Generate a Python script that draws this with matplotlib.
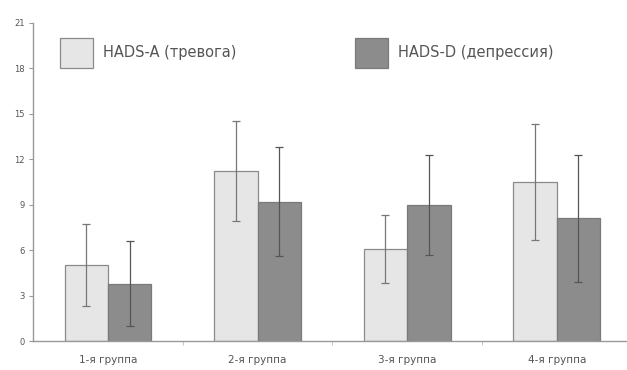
import matplotlib
matplotlib.use("Agg")
import matplotlib.pyplot as plt
from matplotlib.patches import Rectangle
import numpy as np

categories = ["1-я группа", "2-я группа", "3-я группа", "4-я группа"]
series_names = ["HADS-A (тревога)", "HADS-D (депрессия)"]
anx_mean = [5.0, 11.2, 6.1, 10.5]
anx_sd = [2.7, 3.3, 2.25, 3.8]
dep_mean = [3.8, 9.2, 9.0, 8.1]
dep_sd = [2.8, 3.6, 3.3, 4.2]
yticks = [0, 3, 6, 9, 12, 15, 18, 21]

W, H = 627, 370
fig = plt.figure(figsize=(W / 100, H / 100), dpi=100)
ax = fig.add_axes([0.053, 0.078, 0.947, 0.86])

x = np.arange(len(categories))
w = 0.29
light = "#e6e6e6"
dark = "#8c8c8c"
ecol = "#777777"
ax.bar(x - w/2, anx_mean, w, color=light, edgecolor="#8a8a8a", linewidth=0.9,
       yerr=anx_sd, error_kw=dict(ecolor=ecol, elinewidth=0.9, capsize=3, capthick=0.9), zorder=2)
ax.bar(x + w/2, dep_mean, w, color=dark, edgecolor="#7a7a7a", linewidth=0.9,
       yerr=dep_sd, error_kw=dict(ecolor="#555555", elinewidth=0.9, capsize=3, capthick=0.9), zorder=2)

ax.set_xlim(-0.5, 3.47)
ax.set_ylim(0, 21)
ax.set_yticks(yticks)
ax.set_yticklabels([str(t) for t in yticks], fontsize=6, color="#555555")
ax.set_xticks(x)
ax.set_xticklabels(categories, fontsize=7.5, color="#555555")
ax.tick_params(axis='x', length=0, pad=10)
ax.tick_params(axis='y', length=3, color="#999999", pad=3)
ax.set_xticks([0.5, 1.5, 2.5], minor=True)
ax.tick_params(axis='x', which='minor', length=3, color="#bbbbbb")
for s in ['top', 'right']:
    ax.spines[s].set_visible(False)
for s in ['left', 'bottom']:
    ax.spines[s].set_color("#999999")
    ax.spines[s].set_linewidth(1.0)

# legend drawn manually
leg_items = [(60, light, "#8a8a8a", series_names[0]),
             (355, dark, "#7a7a7a", series_names[1])]
for px, fc, ec, label in leg_items:
    fig.add_artist(Rectangle((px / W, 1 - 68 / H), 33 / W, 30 / H,
                             transform=fig.transFigure, facecolor=fc,
                             edgecolor=ec, linewidth=0.9))
    fig.text((px + 43) / W, 1 - 53 / H, label, fontsize=10.5,
             color="#555555", va="center", ha="left")

fig.savefig("out.png", dpi=100)
